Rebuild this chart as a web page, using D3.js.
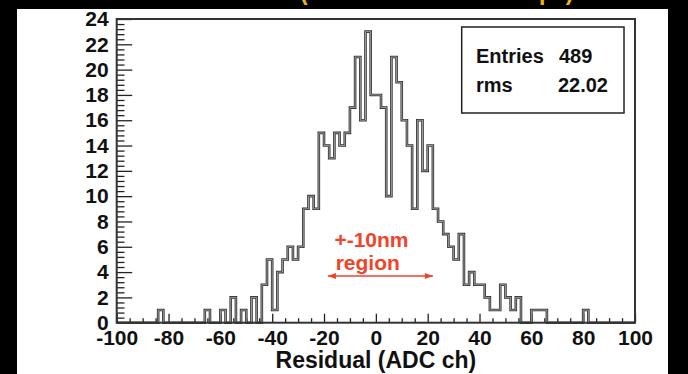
<!DOCTYPE html>
<html>
<head>
<meta charset="utf-8">
<script src="https://cdn.jsdelivr.net/npm/d3@7"></script>
<style>
  html, body { margin: 0; padding: 0; background: #000; }
  svg { display: block; }
  text { font-family: "Liberation Sans", Arial, sans-serif; }
</style>
</head>
<body>
<div id="chart"></div>
<script>
// histogram: 100 bins of width 2 from -100 to 100
const binLow = -100;
const binWidth = 2;
const counts = [
  0, 0, 0, 0, 0, 0, 0, 0, 1, 0,      // -100 .. -82
  0, 0, 0, 0, 0, 0, 0, 1, 0, 0,      // -80 .. -62
  1, 0, 2, 0, 1, 0, 2, 0, 3, 5,      // -60 .. -42
  1, 4, 5, 6, 5, 6, 9, 10, 9, 15,    // -40 .. -22
  14, 13, 15, 14, 15, 17, 21, 16, 23, 18, // -20 .. -2
  18, 17, 10, 21, 19, 16, 14, 9, 16, 12,  // 0 .. 18
  14, 9, 8, 7, 6, 5, 7, 3, 4, 3,     // 20 .. 38
  3, 2, 1, 1, 3, 2, 1, 2, 0, 0,      // 40 .. 58
  1, 1, 1, 0, 0, 0, 0, 0, 0, 0,      // 60 .. 78
  1, 0, 0, 0, 0, 0, 0, 0, 0, 0       // 80 .. 98
];
const xTicks = [-100, -80, -60, -40, -20, 0, 20, 40, 60, 80, 100];
const yTicks = [0, 2, 4, 6, 8, 10, 12, 14, 16, 18, 20, 22, 24];
const statLabels = ['Entries', 'rms'];
const statValues = ['489', '22.02'];
const noteLines = ['+-10nm', 'region'];
const noteArrow = [-18.5, 22];

const W = 688, H = 374;
const padL = 116.7, padR = 635, padT = 19, padB = 322.7;

const svg = d3.select('#chart').append('svg')
  .attr('width', W).attr('height', H);

svg.append('rect').attr('width', W).attr('height', H).attr('fill', '#000');
svg.append('rect')
  .attr('x', 17).attr('y', 9).attr('width', 651).attr('height', H - 9)
  .attr('fill', '#fff');

// title, mostly cut off by the top edge
svg.append('text')
  .attr('x', 300).attr('y', 0)
  .attr('fill', '#f2b705')
  .attr('font-size', 23).attr('font-weight', 'bold')
  .text('(Data of all central chips)');

const x = d3.scaleLinear().domain([-100, 100]).range([padL, padR]);
const y = d3.scaleLinear().domain([0, 24]).range([padB, padT]);
const plain = d => String(d);

// Axes
const g = svg.append('g');

g.append('g').attr('transform', `translate(0,${padB})`)
  .call(d3.axisBottom(x).tickValues(d3.range(-100, 101, 5)).tickSize(0).tickFormat(''))
  .call(a => a.select('.domain').remove())
  .selectAll('.tick line')
  .attr('y2', d => (d % 20 === 0 ? -9 : -4.5))
  .attr('stroke', '#222').attr('stroke-width', 1.3);

g.append('g').attr('transform', `translate(0,${padB})`)
  .call(d3.axisBottom(x).tickValues(xTicks).tickSize(0).tickPadding(7.5).tickFormat(plain))
  .call(a => a.select('.domain').remove())
  .selectAll('text')
  .attr('font-family', '"Liberation Sans", Arial, sans-serif')
  .attr('font-size', 21).attr('font-weight', 'bold').attr('fill', '#111');

g.append('g').attr('transform', `translate(${padL},0)`)
  .call(d3.axisLeft(y).tickValues(d3.range(0, 24.01, 0.4)).tickSize(0).tickFormat(''))
  .call(a => a.select('.domain').remove())
  .selectAll('.tick line')
  .attr('x2', d => (Math.abs(d / 2 - Math.round(d / 2)) < 1e-6 ? 15.5 : 7.8))
  .attr('stroke', '#222').attr('stroke-width', 1.3);

g.append('g').attr('transform', `translate(${padL},0)`)
  .call(d3.axisLeft(y).tickValues(yTicks).tickSize(0).tickPadding(8).tickFormat(plain))
  .call(a => a.select('.domain').remove())
  .selectAll('text')
  .attr('font-family', '"Liberation Sans", Arial, sans-serif')
  .attr('font-size', 21).attr('font-weight', 'bold').attr('fill', '#111');

// Histogram outline
const pts = counts.map((c, i) => [binLow + i * binWidth, c]);
pts.push([binLow + counts.length * binWidth, counts[counts.length - 1]]);
const line = d3.line().x(d => x(d[0])).y(d => y(d[1])).curve(d3.curveStepAfter);
svg.append('path').attr('d', line(pts))
  .attr('fill', 'none').attr('stroke', '#333').attr('stroke-width', 2.6);
svg.append('path').attr('d', line(pts))
  .attr('fill', 'none').attr('stroke', '#c8c8c8').attr('stroke-width', 0.7);

// Frame
svg.append('rect')
  .attr('x', padL).attr('y', padT).attr('width', padR - padL).attr('height', padB - padT)
  .attr('fill', 'none').attr('stroke', '#333').attr('stroke-width', 2);

// Stats box
svg.append('rect')
  .attr('x', 461.7).attr('y', 27).attr('width', 162.3).attr('height', 86)
  .attr('fill', '#fff').attr('stroke', '#222').attr('stroke-width', 1.5);
statLabels.forEach((s, i) => {
  svg.append('text').attr('x', 476).attr('y', 63 + i * 29)
    .attr('font-size', 20).attr('font-weight', 'bold').attr('fill', '#111').text(s);
});
svg.append('text').attr('x', 559).attr('y', 63)
  .attr('font-size', 20).attr('font-weight', 'bold').attr('fill', '#111').text(statValues[0]);
svg.append('text').attr('x', 608).attr('y', 92).attr('text-anchor', 'end')
  .attr('font-size', 20).attr('font-weight', 'bold').attr('fill', '#111').text(statValues[1]);

// Annotation
const red = '#f0432a';
svg.append('text').attr('x', x(-16)).attr('y', 247)
  .attr('font-size', 21).attr('font-weight', 'bold').attr('fill', red).text(noteLines[0]);
svg.append('text').attr('x', x(-15.5)).attr('y', 270)
  .attr('font-size', 21).attr('font-weight', 'bold').attr('fill', red).text(noteLines[1]);
const ay = 276;
svg.append('line').attr('x1', x(noteArrow[0])).attr('x2', x(noteArrow[1]))
  .attr('y1', ay).attr('y2', ay).attr('stroke', red).attr('stroke-width', 1.6);
[[noteArrow[0], 1], [noteArrow[1], -1]].forEach(([v, dir]) => {
  const px = x(v);
  svg.append('path')
    .attr('d', `M${px},${ay} L${px + dir * 8},${ay - 3} L${px + dir * 8},${ay + 3} Z`)
    .attr('fill', red);
});

// Axis title
svg.append('text').attr('x', (padL + padR) / 2).attr('y', 368)
  .attr('text-anchor', 'middle')
  .attr('font-size', 23).attr('font-weight', 'bold').attr('fill', '#111')
  .text('Residual (ADC ch)');
</script>
</body>
</html>
